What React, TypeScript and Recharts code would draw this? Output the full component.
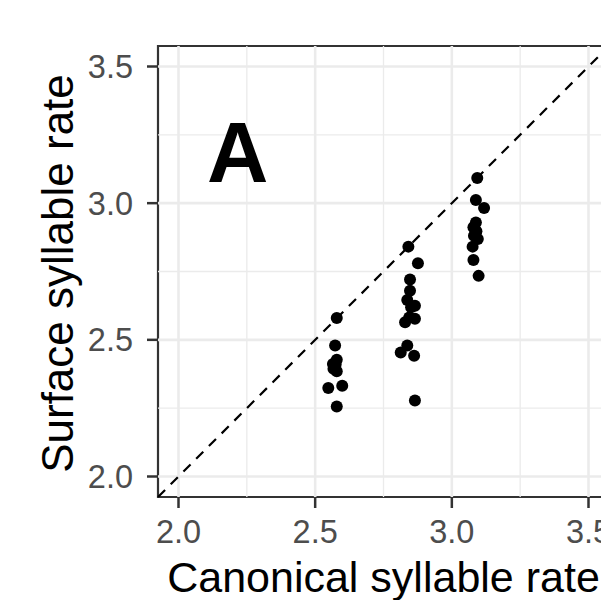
import {
  ScatterChart, Scatter, XAxis, YAxis, ReferenceLine, ReferenceArea, ReferenceDot,
} from 'recharts';

const canonicalRate = [
  2.579, 2.573, 2.579, 2.565, 2.567, 2.579, 2.548, 2.599, 2.579, 2.575,
  2.841, 2.876, 2.847, 2.847, 2.837, 2.865, 2.851, 2.829, 2.865, 2.844, 2.837, 2.813, 2.862, 2.865,
  3.093, 3.088, 3.118, 3.088, 3.079, 3.090, 3.081, 3.095, 3.076, 3.079, 3.098,
];
const surfaceRate = [
  2.580, 2.479, 2.427, 2.412, 2.394, 2.385, 2.324, 2.332, 2.256, 2.410,
  2.841, 2.780, 2.721, 2.680, 2.646, 2.625, 2.619, 2.564, 2.577, 2.582, 2.479, 2.454, 2.442, 2.278,
  3.092, 3.012, 2.982, 2.929, 2.912, 2.897, 2.881, 2.869, 2.841, 2.792, 2.734,
];

const axisLimits = [1.925, 3.575];
const majorBreaks = [2.0, 2.5, 3.0, 3.5];
const minorBreaks = [2.25, 2.75, 3.25];

const points = canonicalRate.map((x, i) => ({ x, y: surfaceRate[i] }));

const FONT = '"Liberation Sans", Arial, sans-serif';
const tickStyle = { fill: '#4D4D4D', fontSize: 32.5, fontFamily: FONT };

const XTitle = ({ viewBox }: any) => (
  <text x={viewBox.x + viewBox.width / 2} y={592} textAnchor="middle"
    fontSize={43} fontFamily={FONT} fill="#000">Canonical syllable rate</text>
);

const YTitle = ({ viewBox }: any) => {
  const cy = viewBox.y + viewBox.height / 2 + 2;
  return (
    <text x={73} y={cy} textAnchor="middle" transform={`rotate(-90, 73, ${cy})`}
      fontSize={44} fontFamily={FONT} fill="#000">Surface syllable rate</text>
  );
};

export default function App() {
  return (
    <div style={{ position: 'absolute', left: 0, top: 0, width: 601, height: 600, overflow: 'hidden', background: '#fff' }}>
      <ScatterChart width={620} height={600} margin={{ top: 46, right: 11, bottom: 0, left: 0 }}>
        <XAxis type="number" dataKey="x" domain={axisLimits} ticks={majorBreaks} allowDataOverflow
          tickFormatter={(v: number) => v.toFixed(1)} tick={tickStyle} height={103}
          tickSize={11} tickMargin={12} axisLine={false}
          tickLine={{ stroke: '#333333', strokeWidth: 2.5 }} label={<XTitle />} />
        <YAxis type="number" dataKey="y" domain={axisLimits} ticks={majorBreaks} allowDataOverflow
          tickFormatter={(v: number) => v.toFixed(1)} tick={tickStyle} width={158}
          tickSize={11} tickMargin={14} axisLine={false}
          tickLine={{ stroke: '#333333', strokeWidth: 2.5 }} label={<YTitle />} />
        {minorBreaks.map((v) => (
          <ReferenceLine key={'mx' + v} x={v} stroke="#EBEBEB" strokeWidth={1.3} />
        ))}
        {minorBreaks.map((v) => (
          <ReferenceLine key={'my' + v} y={v} stroke="#EBEBEB" strokeWidth={1.3} />
        ))}
        {majorBreaks.map((v) => (
          <ReferenceLine key={'Mx' + v} x={v} stroke="#EBEBEB" strokeWidth={2.6} />
        ))}
        {majorBreaks.map((v) => (
          <ReferenceLine key={'My' + v} y={v} stroke="#EBEBEB" strokeWidth={2.6} />
        ))}
        <ReferenceLine
          segment={[{ x: axisLimits[0], y: axisLimits[0] }, { x: axisLimits[1], y: axisLimits[1] }]}
          stroke="#000" strokeWidth={2.2} strokeDasharray="10 8" />
        <ReferenceDot x={2.217} y={3.188} r={1} fill="none" stroke="none"
          label={{ value: 'A', position: 'center', fontSize: 85, fontWeight: 'bold', fill: '#000', fontFamily: FONT }} />
        <Scatter data={points} fill="#000" isAnimationActive={false}
          shape={(p: any) => <circle cx={p.cx} cy={p.cy} r={6} fill="#000" />} />
        <ReferenceArea x1={axisLimits[0]} x2={axisLimits[1]} y1={axisLimits[0]} y2={axisLimits[1]}
          fill="none" fillOpacity={0} stroke="#333333" strokeWidth={2.2} />
      </ScatterChart>
    </div>
  );
}
